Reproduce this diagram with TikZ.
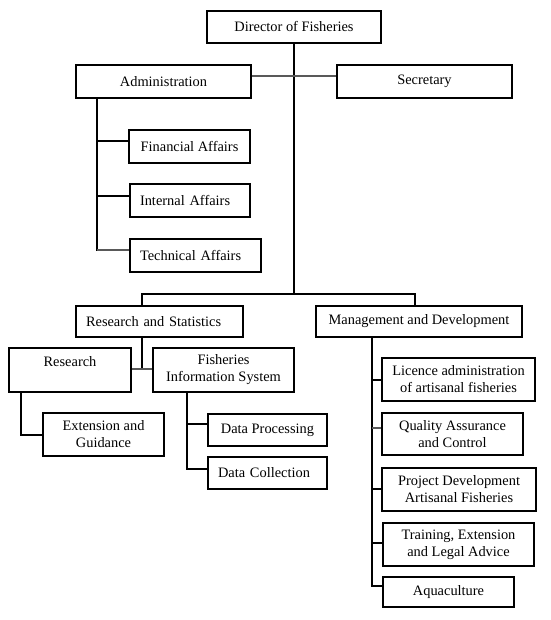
\documentclass[tikz,border=0pt]{standalone}
\usepackage{fontspec}
\setmainfont{Liberation Serif}
\begin{document}
\begin{tikzpicture}[x=1pt,y=-1pt,
  orgbox/.style={draw=black, line width=1.8pt, inner xsep=2pt, inner ysep=0pt, align=center, font=\fontsize{14.4}{17}\selectfont},
  lbox/.style={orgbox, align=left, inner xsep=10pt},
  link/.style={line width=1.6pt, black, line cap=rect},
  glink/.style={line width=1.6pt, black!65}]
\useasboundingbox (0,0) rectangle (550,620);
% boxes
\node[orgbox, minimum width=174pt, minimum height=32pt] (dir) at (294,27) {Director of Fisheries};
\node[orgbox, minimum width=175pt, minimum height=33pt] (adm) at (163.5,81.5) {Administration};
\node[orgbox, minimum width=175pt, minimum height=33pt] (sec) at (424.5,81.5) {Secretary};
\node[orgbox, minimum width=121pt, minimum height=33pt] (fin) at (189.5,146.5) {Financial Affairs};
\node[lbox, text width=100pt, minimum height=33pt] (int) at (190,200.5) {Internal Affairs};
\node[lbox, text width=111pt, minimum height=33pt] (tech) at (195.5,255.5) {Technical Affairs};
\node[lbox, text width=147pt, minimum height=31pt] (rs) at (159.5,321.5) {Research and Statistics};
\node[orgbox, minimum width=206pt, minimum height=31pt] (md) at (419,321.5) {Management and Development};
\node[orgbox, minimum width=122pt, minimum height=44pt] (res) at (70,370) {Research\\~};
\node[orgbox, minimum width=141pt, minimum height=44pt] (fis) at (223.5,370) {Fisheries\\Information System};
\node[orgbox, minimum width=121pt, minimum height=43pt] (ext) at (103.5,434.5) {Extension and\\Guidance};
\node[orgbox, minimum width=119pt, minimum height=32pt] (dp) at (267.5,430) {Data Processing};
\node[lbox, text width=99pt, minimum height=32pt] (dc) at (267.5,473) {Data Collection};
\node[orgbox, minimum width=153pt, minimum height=43pt] (lic) at (458.5,379.5) {Licence administration\\of artisanal fisheries};
\node[orgbox, minimum width=141pt, minimum height=42pt] (qa) at (452.5,434) {Quality Assurance\\and Control};
\node[orgbox, minimum width=154pt, minimum height=43pt] (pd) at (459,489.5) {Project Development\\Artisanal Fisheries};
\node[orgbox, minimum width=151pt, minimum height=43pt] (tr) at (458.5,544.5) {Training, Extension\\and Legal Advice};
\node[orgbox, minimum width=131pt, minimum height=30pt] (aq) at (448.5,592) {Aquaculture};
% trunk and bus
\coordinate (bus) at (294,294);
\coordinate (rsd) at (142,294);
\coordinate (mdd) at (415,294);
\draw[link] (dir.south) -- (bus);
\draw[link] (rsd) -- (mdd);
\draw[link] (rsd) -- (rsd |- rs.north);
\draw[link] (mdd) -- (mdd |- md.north);
\coordinate (as) at (251,76);
\draw[glink] (as -| adm.east) -- (as -| sec.west);
% administration branch
\coordinate (af) at (97,141);
\coordinate (ai) at (97,196);
\coordinate (at) at (97,250);
\draw[link] (adm.south -| af) -- (at);
\draw[link] (af) -- (af -| fin.west);
\draw[link] (ai) -- (ai -| int.west);
\draw[glink] (at) -- (at -| tech.west);
% research and statistics branch
\coordinate (rj) at (142,369);
\draw[link] (rs.south -| rj) -- (rj);
\draw[glink] (rj -| res.east) -- (rj -| fis.west);
\coordinate (re) at (21,435);
\draw[link] (res.south -| re) -- (re) -- (re -| ext.west);
\coordinate (fp) at (187,424);
\coordinate (fc) at (187,469);
\draw[link] (fis.south -| fp) -- (fc) -- (fc -| dc.west);
\draw[link] (fp) -- (fp -| dp.west);
% management branch
\coordinate (ml) at (372,380);
\coordinate (mq) at (372,428);
\coordinate (mp) at (372,489);
\coordinate (mt) at (372,543);
\coordinate (ma) at (372,586);
\draw[link] (md.south -| ml) -- (ma) -- (ma -| aq.west);
\draw[link] (ml) -- (ml -| lic.west);
\draw[glink] (mq) -- (mq -| qa.west);
\draw[link] (mp) -- (mp -| pd.west);
\draw[link] (mt) -- (mt -| tr.west);
\end{tikzpicture}
\end{document}
